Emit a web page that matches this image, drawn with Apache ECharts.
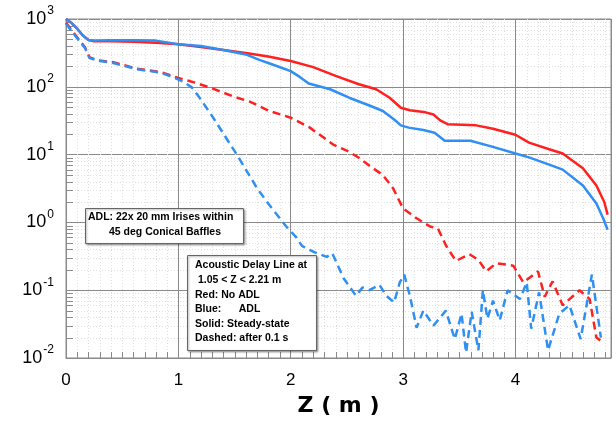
<!DOCTYPE html>
<html>
<head>
<meta charset="utf-8">
<script src="https://cdn.jsdelivr.net/npm/echarts@6/dist/echarts.min.js"></script>
<style>
  html, body { margin: 0; padding: 0; background: #fff; }
  #chart { width: 616px; height: 422px; }
</style>
</head>
<body>
<div id="chart"></div>
<script>
// Red: no ADL, Blue: ADL. Solid = steady state, dashed = after 0.1 s
const redSolidX = [0, 0.05, 0.1, 0.15, 0.2, 0.25, 0.4, 0.6, 0.8, 1.0, 1.2, 1.4, 1.6, 1.8, 2.0, 2.2, 2.4, 2.6, 2.76, 2.88, 2.98, 3.06, 3.2, 3.27, 3.33, 3.4, 3.65, 3.8, 4.0, 4.12, 4.3, 4.42, 4.6, 4.72, 4.79, 4.82]
const redSolidY = [1000, 870, 720, 570, 490, 470, 470, 460, 445, 425, 385, 350, 315, 280, 240, 195, 145, 110, 92, 69, 49, 45, 42, 39, 32, 28, 27, 24, 19.6, 15, 12, 10.4, 6.3, 3.5, 2.0, 1.3]

const blueSolidX = [0, 0.05, 0.1, 0.15, 0.2, 0.25, 0.4, 0.6, 0.8, 1.0, 1.2, 1.4, 1.6, 1.72, 1.85, 2.0, 2.08, 2.16, 2.35, 2.52, 2.7, 2.82, 2.92, 2.98, 3.05, 3.18, 3.28, 3.37, 3.6, 3.8, 4.0, 4.12, 4.3, 4.42, 4.6, 4.72, 4.78, 4.82]
const blueSolidY = [1000, 870, 720, 570, 490, 480, 485, 485, 480, 425, 400, 350, 300, 250, 210, 170, 140, 112, 92, 69, 53, 44, 33, 27, 25, 23, 21, 16, 16, 13, 10.4, 9.1, 7.1, 6, 3.5, 1.9, 1.15, 0.78]

const redDashX = [0, 0.08, 0.17, 0.21, 0.3, 0.42, 0.63, 0.84, 1.0, 1.15, 1.3, 1.49, 1.64, 1.81, 2.0, 2.17, 2.38, 2.52, 2.61, 2.72, 2.82, 2.91, 3.0, 3.12, 3.24, 3.31, 3.38, 3.47, 3.59, 3.67, 3.74, 3.83, 3.98, 4.07, 4.2, 4.26, 4.33, 4.42, 4.57, 4.66, 4.72, 4.78]
const redDashY = [880, 590, 380, 270, 245, 230, 185, 165, 135, 115, 95, 72, 60, 44, 35, 25, 14, 11, 8.9, 6.5, 5, 3.2, 1.6, 1.15, 0.87, 0.81, 0.46, 0.27, 0.34, 0.28, 0.19, 0.25, 0.23, 0.13, 0.19, 0.08, 0.135, 0.06, 0.1, 0.074, 0.02, 0.017]

const blueDashX = [0, 0.08, 0.17, 0.21, 0.3, 0.42, 0.63, 0.84, 0.92, 1.04, 1.12, 1.2, 1.31, 1.52, 1.7, 1.81, 1.96, 2.05, 2.1, 2.2, 2.32, 2.37, 2.47, 2.58, 2.64, 2.7, 2.79, 2.85, 2.92, 2.97, 3.01, 3.06, 3.12, 3.18, 3.27, 3.38, 3.46, 3.52, 3.56, 3.61, 3.67, 3.71, 3.75, 3.8, 3.86, 3.93, 4.04, 4.1, 4.14, 4.21, 4.29, 4.39, 4.48, 4.58, 4.68, 4.76]
const blueDashY = [850, 570, 370, 265, 240, 225, 182, 162, 145, 120, 98, 65, 35, 10, 3.2, 1.8, 0.87, 0.6, 0.45, 0.37, 0.31, 0.35, 0.15, 0.083, 0.11, 0.1, 0.12, 0.083, 0.066, 0.13, 0.17, 0.083, 0.028, 0.05, 0.03, 0.05, 0.019, 0.045, 0.012, 0.048, 0.013, 0.1, 0.038, 0.07, 0.036, 0.1, 0.074, 0.13, 0.027, 0.093, 0.013, 0.045, 0.06, 0.019, 0.17, 0.02]

const boxAdl = ['ADL: 22x 20 mm Irises within', '45 deg Conical Baffles']
const boxLegend = ['Acoustic Delay Line at', ' 1.05 < Z < 2.21 m', 'Red: No ADL', 'Blue:      ADL', 'Solid: Steady-state', 'Dashed: after 0.1 s']

const zip = (xs, ys) => xs.map((x, i) => [x, ys[i]])

// minor grid positions (0.1 in x, 2..9 per decade in y)
const xMinor = []
for (let i = 1; i < 49; i++) if (i % 10) xMinor.push(i / 10)
const yMinor = []
for (let d = -2; d < 3; d++) for (let k = 2; k < 10; k++) yMinor.push(k * Math.pow(10, d))

const gridColor = '#8a8a8a'
const minorColor = '#e0e0e0'
const boxFont = { fill: '#000', fontFamily: 'Liberation Sans', fontWeight: 'bold', fontSize: 10.5 }
const boxStyle = { fill: '#fff', stroke: '#666', lineWidth: 1, shadowColor: 'rgba(0,0,0,0.35)', shadowBlur: 2, shadowOffsetX: 1, shadowOffsetY: 1 }

const chart = echarts.init(document.getElementById('chart'))

function lineSeries (name, xs, ys, color, dashed) {
  return {
    name: name,
    type: 'line',
    data: zip(xs, ys),
    showSymbol: false,
    z: 5,
    lineStyle: { color: color, width: 2.5, type: dashed ? [8, 5] : 'solid' }
  }
}

chart.setOption({
  animation: false,
  grid: {
    left: 66, right: 5, top: 19, bottom: 63,
    show: true, borderColor: gridColor, borderWidth: 1
  },
  xAxis: {
    type: 'value',
    min: 0,
    max: 4.85,
    interval: 1,
    name: 'Z ( m )',
    nameLocation: 'middle',
    nameGap: 37,
    nameTextStyle: { fontFamily: 'DejaVu Sans', fontWeight: 'bold', fontSize: 22, color: '#000' },
    axisLine: { lineStyle: { color: gridColor } },
    axisTick: { inside: true, length: 6, lineStyle: { color: gridColor } },
    axisLabel: { showMaxLabel: false, margin: 14, fontFamily: 'Liberation Sans', fontSize: 17, color: '#000' },
    splitLine: { show: true, lineStyle: { color: gridColor, width: 1 } }
  },
  yAxis: {
    type: 'log',
    logBase: 10,
    min: 0.01,
    max: 1000,
    axisLine: { lineStyle: { color: gridColor } },
    axisTick: { show: false },
    axisLabel: {
      margin: 12,
      formatter: function (v) {
        return '{a|10}{b|' + Math.round(Math.log10(v)) + '}'
      },
      rich: {
        a: { fontFamily: 'Liberation Sans', fontSize: 18, lineHeight: 18, color: '#000' },
        b: { fontFamily: 'Liberation Sans', fontSize: 12, lineHeight: 12, padding: [0, 0, 16, 1], color: '#000' }
      }
    },
    splitLine: { show: true, lineStyle: { color: gridColor, width: 1 } }
  },
  series: [
    {
      type: 'custom',
      silent: true,
      z: 1,
      data: xMinor.map(v => [v, 1]),
      renderItem: function (params, api) {
        const cs = params.coordSys
        const px = Math.round(api.coord([api.value(0), 1])[0]) + 0.5
        return {
          type: 'group',
          children: [
            { type: 'line', shape: { x1: px, y1: cs.y, x2: px, y2: cs.y + cs.height }, style: { stroke: minorColor, lineWidth: 1, lineDash: [1, 2] } },
            { type: 'line', shape: { x1: px, y1: cs.y + cs.height, x2: px, y2: cs.y + cs.height - 6 }, style: { stroke: gridColor, lineWidth: 1 } }
          ]
        }
      }
    },
    {
      type: 'custom',
      silent: true,
      z: 1,
      data: yMinor.map(v => [0, v]),
      renderItem: function (params, api) {
        const cs = params.coordSys
        const py = Math.round(api.coord([0, api.value(1)])[1]) + 0.5
        return {
          type: 'group',
          children: [
            { type: 'line', shape: { x1: cs.x, y1: py, x2: cs.x + cs.width, y2: py }, style: { stroke: minorColor, lineWidth: 1, lineDash: [1, 2] } },
            { type: 'line', shape: { x1: cs.x, y1: py, x2: cs.x + 7, y2: py }, style: { stroke: gridColor, lineWidth: 1 } }
          ]
        }
      }
    },
    lineSeries('No ADL steady', redSolidX, redSolidY, '#ff2020', false),
    lineSeries('ADL steady', blueSolidX, blueSolidY, '#2f8ff2', false),
    lineSeries('No ADL 0.1 s', redDashX, redDashY, '#ff2020', true),
    lineSeries('ADL 0.1 s', blueDashX, blueDashY, '#2f8ff2', true)
  ],
  graphic: [
    { type: 'rect', left: 85, top: 208, z: 100, shape: { width: 158, height: 35 }, style: boxStyle },
    { type: 'text', left: 88, top: 212, z: 101, style: Object.assign({ text: boxAdl[0] }, boxFont) },
    { type: 'text', left: 109, top: 227, z: 101, style: Object.assign({ text: boxAdl[1] }, boxFont) },
    { type: 'rect', left: 187, top: 255, z: 100, shape: { width: 129, height: 95 }, style: boxStyle }
  ].concat(boxLegend.map((t, i) => ({
    type: 'text', left: 195, top: 260 + i * 14.6, z: 101,
    style: Object.assign({ text: t }, boxFont)
  })))
})
</script>
</body>
</html>
